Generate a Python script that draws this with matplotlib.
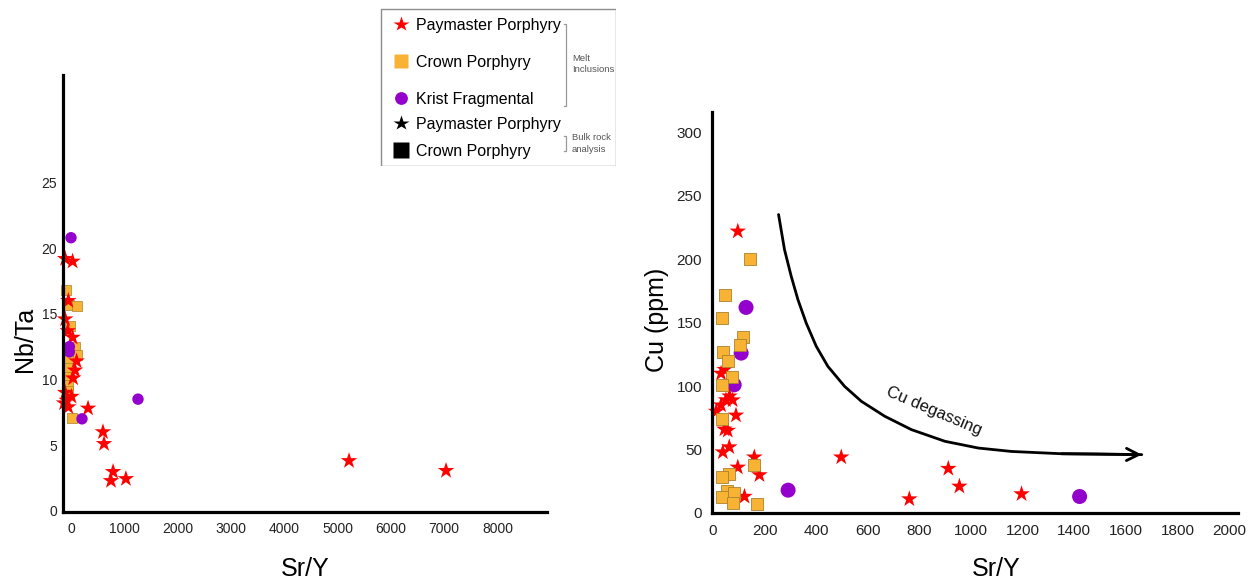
import matplotlib
matplotlib.use("Agg")
import matplotlib.pyplot as plt
from matplotlib.lines import Line2D
from matplotlib.patches import Rectangle

plt.rcParams['font.family'] = ['Liberation Sans', 'DejaVu Sans']

# ---------------- data: left panel (Sr/Y vs Nb/Ta) ----------------
nb_pay_x = [-110, 30, -50, -110, -60, 30, 75, 105, 40, -110, -80, -130, 10, -50,
            320, 600, 620, 790, 750, 1030, 5216, 7036]
nb_pay_y = [19.2, 19.0, 16.0, 14.6, 13.7, 13.2, 10.7, 11.4, 10.1, 9.0, 8.4, 8.2, 8.7, 7.9,
            7.8, 6.0, 5.1, 2.97, 2.28, 2.43, 3.8, 3.05]
nb_crown_x = [-90, -40, 105, -20, 75, 105, -50, -50, -50, -50, -50, 10]
nb_crown_y = [16.8, 15.7, 15.6, 14.1, 12.5, 11.9, 11.5, 10.9, 10.2, 9.6, 9.1, 7.1]
nb_krist_x = [0, -30, -30, 206, 1257]
nb_krist_y = [20.8, 12.5, 12.1, 7.0, 8.5]

# ---------------- data: right panel (Sr/Y vs Cu) ----------------
cu_pay_x = [96, 31, 45, 50, 76, 31, 12, 89, 64, 44, 57, 63, 38, 96, 160, 180, 122,
            497, 912, 955, 761, 1196]
cu_pay_y = [222, 110, 113, 89, 89, 85, 80, 77, 92, 66, 65, 52, 48, 36, 44, 30, 13,
            44, 35, 21, 11, 15]
cu_crown_x = [145, 48, 35, 115, 105, 40, 57, 73, 34, 34, 160, 63, 34, 54, 83, 34, 76, 171]
cu_crown_y = [200, 172, 154, 139, 132, 127, 120, 107, 101, 74, 38, 31, 28, 17, 16, 13, 8, 7]
cu_krist_x = [128, 109, 82, 291, 1421]
cu_krist_y = [162, 126, 101, 18, 13]

# "Cu degassing" trend arrow (annotation path)
degas_x = [254, 277, 303, 329, 361, 400, 445, 510, 575, 666, 769, 899, 1028, 1157, 1351, 1480, 1662]
degas_y = [235.2, 207.6, 186.6, 168.2, 149.8, 131.4, 115.6, 99.8, 88.0, 76.2, 65.7, 56.5,
           51.2, 48.5, 46.7, 46.5, 46.0]

left_xticks = [0, 1000, 2000, 3000, 4000, 5000, 6000, 7000, 8000]
left_yticks = [0, 5, 10, 15, 20, 25]
right_xticks = [0, 200, 400, 600, 800, 1000, 1200, 1400, 1600, 1800, 2000]
right_yticks = [0, 50, 100, 150, 200, 250, 300]

RED = '#FF0000'
ORANGE = '#F8B234'
ORANGE_EDGE = '#A9822E'
PURPLE = '#9400CC'

W, H = 1257, 588
fig = plt.figure(figsize=(W / 100, H / 100), dpi=100)


def px_axes(l, r, t, b):
    return fig.add_axes([l / W, 1 - b / H, (r - l) / W, (b - t) / H])


def style(ax, fs, xpad, ypad):
    for s in ('top', 'right'):
        ax.spines[s].set_visible(False)
    for s in ('left', 'bottom'):
        ax.spines[s].set_linewidth(2.3)
        ax.spines[s].set_color('black')
        ax.spines[s].set_zorder(6)
    ax.tick_params(axis='both', length=0, labelsize=fs, colors='#222222')
    ax.tick_params(axis='x', pad=xpad)
    ax.tick_params(axis='y', pad=ypad)


# ---------------- left panel ----------------
axL = px_axes(63, 547, 75, 512)
axL.scatter(nb_crown_x, nb_crown_y, marker='s', s=7.0 ** 2, c=ORANGE,
            edgecolors=ORANGE_EDGE, linewidths=0.5, zorder=3, clip_on=False)
axL.scatter(nb_pay_x, nb_pay_y, marker='*', s=12.5 ** 2, c=RED, edgecolors='none', zorder=4,
            clip_on=False)
axL.scatter(nb_krist_x, nb_krist_y, marker='o', s=8.2 ** 2, c=PURPLE, edgecolors='none', zorder=5,
            clip_on=False)
axL.set_xlim(-150, 8930)
axL.set_ylim(-0.1, 33.2)
axL.set_xticks(left_xticks)
axL.set_yticks(left_yticks)
style(axL, 10, 7.5, 4.3)
axL.set_xlabel('Sr/Y', fontsize=18)
axL.xaxis.set_label_coords((305 - 63) / 484, (512 - 569) / 437)
axL.xaxis.label.set_verticalalignment('center')
axL.set_ylabel('Nb/Ta', fontsize=18)
axL.yaxis.set_label_coords((25 - 63) / 484, (512 - 339) / 437)
axL.yaxis.label.set_verticalalignment('center')

# ---------------- right panel ----------------
axR = px_axes(712, 1238, 112, 513)
axR.scatter(cu_krist_x, cu_krist_y, marker='o', s=10.8 ** 2, c=PURPLE, edgecolors='none', zorder=3,
            clip_on=False)
axR.scatter(cu_pay_x, cu_pay_y, marker='*', s=12.5 ** 2, c=RED, edgecolors='none', zorder=4,
            clip_on=False)
axR.scatter(cu_crown_x, cu_crown_y, marker='s', s=9.2 ** 2, c=ORANGE,
            edgecolors=ORANGE_EDGE, linewidths=0.6, zorder=5, clip_on=False)
axR.plot(degas_x, degas_y, color='black', lw=2.0, solid_capstyle='round',
         solid_joinstyle='round', zorder=2)
axR.annotate('', xy=(degas_x[-1], degas_y[-1]), xytext=(degas_x[-3], degas_y[-3]),
             arrowprops=dict(arrowstyle='->', lw=2.0, color='black', mutation_scale=22,
                             shrinkA=0, shrinkB=0))
axR.text(855, 80, 'Cu degassing', fontsize=12, rotation=-23, ha='center', va='center',
         rotation_mode='anchor', color='#111111')
axR.set_xlim(-4, 2035)
axR.set_ylim(0, 316)
axR.set_xticks(right_xticks)
axR.set_yticks(right_yticks)
style(axR, 11, 7.6, 7.2)
axR.set_xlabel('Sr/Y', fontsize=18)
axR.xaxis.set_label_coords((996 - 712) / 526, (513 - 569) / 401)
axR.xaxis.label.set_verticalalignment('center')
axR.set_ylabel('Cu (ppm)', fontsize=18)
axR.yaxis.set_label_coords((657 - 712) / 526, (513 - 320) / 401)
axR.yaxis.label.set_verticalalignment('center')

# ---------------- legend ----------------
LX0, LX1, LY0, LY1 = 380, 616, 8, 166
axLeg = px_axes(LX0, LX1, LY0, LY1)
axLeg.set_xlim(LX0, LX1)
axLeg.set_ylim(LY1, LY0)
axLeg.axis('off')
axLeg.add_patch(Rectangle((LX0 + 0.5, LY0 + 0.5), LX1 - LX0 - 1, LY1 - LY0 - 1,
                          fill=False, edgecolor='#8c8c8c', lw=1.0))

melt_handles = [
    Line2D([], [], ls='none', marker='*', ms=11.5, color=RED, mec='none'),
    Line2D([], [], ls='none', marker='s', ms=9.6, color=ORANGE, mec='none'),
    Line2D([], [], ls='none', marker='o', ms=9.2, color=PURPLE, mec='none'),
]
bulk_handles = [
    Line2D([], [], ls='none', marker='*', ms=11.5, color='black', mec='none'),
    Line2D([], [], ls='none', marker='s', ms=11.0, color='black', mec='none'),
]
common = dict(frameon=False, fontsize=11.5, borderpad=0, borderaxespad=0,
              handlelength=1.0, handletextpad=0.45, loc='upper left')
leg1 = axLeg.legend(melt_handles, ['Paymaster Porphyry', 'Crown Porphyry', 'Krist Fragmental'],
                    bbox_to_anchor=((393 - LX0) / (LX1 - LX0), 1 - (18 - LY0) / (LY1 - LY0)),
                    labelspacing=1.37, **common)
axLeg.add_artist(leg1)
leg2 = axLeg.legend(bulk_handles, ['Paymaster Porphyry', 'Crown Porphyry'],
                    bbox_to_anchor=((393 - LX0) / (LX1 - LX0), 1 - (117 - LY0) / (LY1 - LY0)),
                    labelspacing=0.74, **common)

br_col = '#9a9a9a'
for (y0, y1) in [(24, 106), (136, 150.5)]:
    axLeg.plot([563.5, 566, 566, 563.5], [y0, y0, y1, y1], color=br_col, lw=0.9)
axLeg.text(572, 64, 'Melt\nInclusions', fontsize=6.8, color='#555555', ha='left', va='center',
           linespacing=1.35)
axLeg.text(572, 143.5, 'Bulk rock\nanalysis', fontsize=6.8, color='#555555', ha='left', va='center',
           linespacing=1.35)

fig.savefig('out.png', dpi=100, facecolor='white')
